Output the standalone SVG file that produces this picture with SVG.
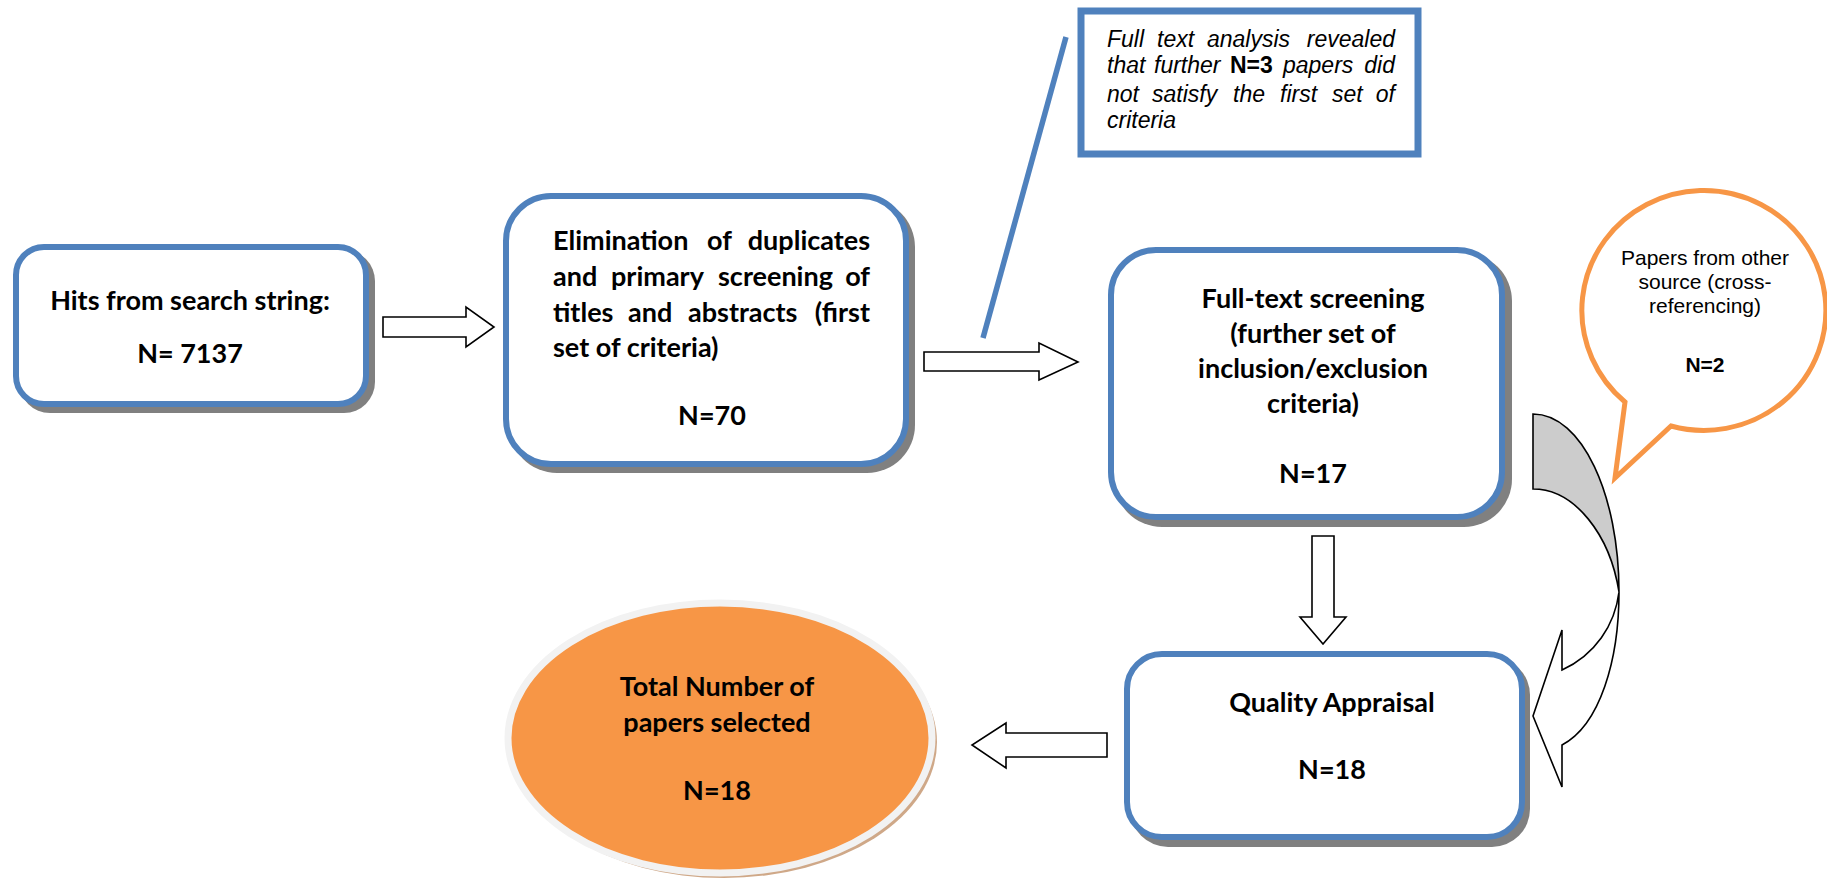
<svg xmlns="http://www.w3.org/2000/svg" width="1827" height="883" viewBox="0 0 1827 883">
<defs>
<style>
.box{fill:#ffffff;stroke:#4F81BD;stroke-width:6}
.shadow{fill:#808080}
.t{font-family:Lato,"Liberation Sans",sans-serif;font-weight:bold;font-size:27px;fill:#000000}
.c{text-anchor:middle}
.e{text-anchor:end}
.arrow{fill:#ffffff;stroke:#000000;stroke-width:1.6;stroke-linejoin:miter}
.it{font-family:"Liberation Sans",Arial,sans-serif;font-style:italic;font-size:23px;fill:#000000}
.b{font-style:normal;font-weight:bold}
.bub{font-family:"Liberation Sans",Arial,sans-serif;font-size:21px;fill:#000000;text-anchor:middle}
</style>
</defs>
<rect x="0" y="0" width="1827" height="883" fill="#ffffff"/>

<g id="connectors">
  <line x1="1066" y1="37" x2="983" y2="338" stroke="#4F81BD" stroke-width="5.5"/>
  <path class="arrow" d="M383,317 H466 V307 L494,327 L466,347 V337 H383 Z"/>
  <path class="arrow" d="M924,352 H1039 V343 L1078,362 L1039,380 V371 H924 Z"/>
  <path class="arrow" d="M1312,536 H1334 V617 H1346 L1323,644 L1300,617 H1312 Z"/>
  <path class="arrow" d="M1107,733 V757 H1006 V768 L972,745 L1006,723 V733 Z"/>
  <g id="curved-arrow">
    <path d="M1533,414 C1582,414 1619,495 1619,592 C1610,535 1575,489 1533,489 Z" fill="#cccccc" stroke="#000000" stroke-width="1.6"/>
    <path class="arrow" d="M1619,592 C1619,660 1600,725 1562,745 L1562,787 L1533,716 L1562,630 L1562,670 C1595,655 1615,625 1619,592 Z"/>
  </g>
</g>

<g id="node-hits">
  <rect class="shadow" x="19" y="250" width="356" height="163" rx="31"/>
  <rect class="box" x="16" y="247" width="350" height="157" rx="28"/>
  <text class="t c" x="190" y="310">Hits from search string:</text>
  <text class="t c" x="190" y="363">N= 7137</text>
</g>

<g id="node-elimination">
  <rect class="shadow" x="509" y="199" width="406" height="274" rx="48"/>
  <rect class="box" x="506" y="196" width="400" height="268" rx="45"/>
  <text class="t" y="250"><tspan x="553">Elimination</tspan><tspan x="707">of</tspan><tspan x="870" class="e">duplicates</tspan></text>
  <text class="t" y="286"><tspan x="553">and</tspan><tspan x="611">primary</tspan><tspan x="718">screening</tspan><tspan x="870" class="e">of</tspan></text>
  <text class="t" y="322"><tspan x="553">titles</tspan><tspan x="628">and</tspan><tspan x="688">abstracts</tspan><tspan x="870" class="e">(first</tspan></text>
  <text class="t" x="553" y="357">set of criteria)</text>
  <text class="t c" x="712" y="425">N=70</text>
</g>

<g id="node-note">
  <rect x="1081" y="11" width="337" height="143" fill="#ffffff" stroke="#4F81BD" stroke-width="7"/>
  <text class="it" y="47"><tspan x="1107">Full</tspan><tspan x="1157">text</tspan><tspan x="1207">analysis</tspan><tspan x="1395" text-anchor="end">revealed</tspan></text>
  <text class="it" y="73"><tspan x="1107">that</tspan><tspan x="1154">further</tspan><tspan x="1230" class="b">N=3</tspan><tspan x="1283">papers</tspan><tspan x="1395" text-anchor="end">did</tspan></text>
  <text class="it" y="102"><tspan x="1107">not</tspan><tspan x="1152">satisfy</tspan><tspan x="1233">the</tspan><tspan x="1280">first</tspan><tspan x="1332">set</tspan><tspan x="1395" text-anchor="end">of</tspan></text>
  <text class="it" x="1107" y="128">criteria</text>
</g>

<g id="node-fulltext">
  <rect class="shadow" x="1114" y="253" width="398" height="274" rx="48"/>
  <rect class="box" x="1111" y="250" width="391" height="267" rx="45"/>
  <text class="t c" x="1313" y="308">Full-text screening</text>
  <text class="t c" x="1313" y="343">(further set of</text>
  <text class="t c" x="1313" y="378">inclusion/exclusion</text>
  <text class="t c" x="1313" y="413">criteria)</text>
  <text class="t c" x="1313" y="483">N=17</text>
</g>

<g id="node-other-source">
  <path d="M1625,402 A122,120 0 1 1 1671,426 L1615,478 Z" fill="#ffffff" stroke="#F79646" stroke-width="5" stroke-linejoin="miter"/>
  <text class="bub" x="1705" y="265">Papers from other</text>
  <text class="bub" x="1705" y="289">source (cross-</text>
  <text class="bub" x="1705" y="313">referencing)</text>
  <text class="bub" x="1705" y="372" font-weight="bold">N=2</text>
</g>

<g id="node-quality">
  <rect class="shadow" x="1130" y="657" width="400" height="190" rx="38"/>
  <rect class="box" x="1127" y="654" width="395" height="183" rx="35"/>
  <text class="t c" x="1332" y="712">Quality Appraisal</text>
  <text class="t c" x="1332" y="779">N=18</text>
</g>

<g id="node-total">
  <ellipse cx="724" cy="742" rx="213" ry="136" fill="#cfa888"/>
  <ellipse cx="720" cy="738" rx="212" ry="135" fill="#F79646" stroke="#f2f2f2" stroke-width="7"/>
  <text class="t c" x="717" y="696">Total Number of</text>
  <text class="t c" x="717" y="732">papers selected</text>
  <text class="t c" x="717" y="800">N=18</text>
</g>
</svg>
